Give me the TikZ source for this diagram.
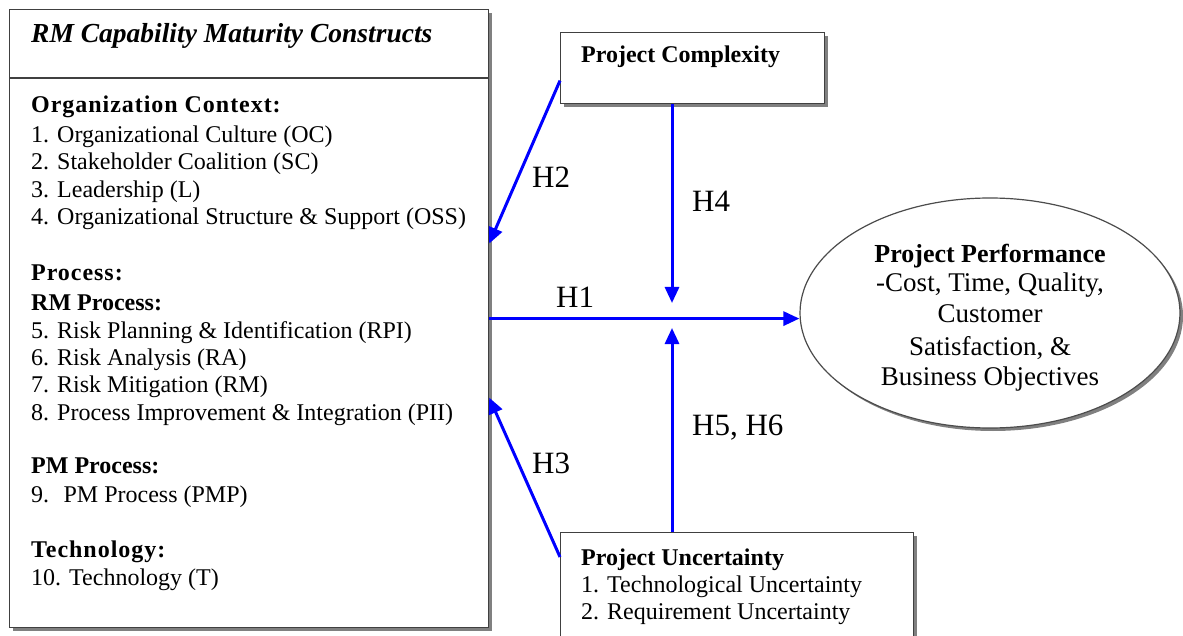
\documentclass[tikz,border=0pt]{standalone}
\usepackage{fontspec}
\setmainfont{Liberation Serif}
\usetikzlibrary{arrows.meta,shadows,shapes.geometric}
\definecolor{arrblue}{RGB}{0,0,255}
\begin{document}
\begin{tikzpicture}[x=1pt,y=-1pt,
  shad/.style={drop shadow={shadow xshift=3pt,shadow yshift=-3pt,fill=black!50,opacity=1}},
  box/.style={draw=black!75,line width=1.2pt,fill=white,inner sep=0pt,anchor=north west,shad},
  txt/.style={anchor=base west,inner sep=0pt,font=\fontsize{24}{28}\selectfont},
  hd/.style={anchor=base west,inner sep=0pt,font=\fontsize{24}{28}\selectfont\bfseries},
  ptxt/.style={anchor=base,inner sep=0pt,font=\fontsize{27}{31}\selectfont},
  hlab/.style={anchor=base west,inner sep=0pt,font=\fontsize{31}{36}\selectfont},
  arr/.style={draw=arrblue,line width=3pt,-{Triangle[length=16pt,width=14pt]}}]
\useasboundingbox (0,0) rectangle (1183,636);
\clip (0,0) rectangle (1183,636);

% boxes
\node[box,minimum width=479pt,minimum height=618pt] (rm) at (9,9) {};
\draw[draw=black!75,line width=1.2pt] (rm.west |- 0,78) -- (rm.east |- 0,78);
\node[box,minimum width=264pt,minimum height=71pt] (pc) at (560,32) {};
\node[box,minimum width=353pt,minimum height=112pt] (pu) at (560,532) {};
\node[draw=black!70,line width=1.2pt,fill=white,ellipse,inner sep=0pt,
      minimum width=380pt,minimum height=230pt,shad] (pp) at (990,313) {};

% left box text
\node[txt,font=\fontsize{27.5}{32}\selectfont\bfseries\itshape] (t0) at (31,43) {RM Capability Maturity Constructs};
\node[hd] (t1) at (31,113) {\addfontfeature{LetterSpace=4}Organization Context:};
\node[txt] (t2) at (31,143) {1. Organizational Culture (OC)};
\node[txt] (t3) at (31,170) {2. Stakeholder Coalition (SC)};
\node[txt] (t4) at (31,198) {3. Leadership (L)};
\node[txt] (t5) at (31,225) {4. Organizational Structure \& Support (OSS)};
\node[hd] (t6) at (31,281) {\addfontfeature{LetterSpace=4}Process:};
\node[hd] (t7) at (31,310) {RM Process:};
\node[txt] (t8) at (31,338) {5. Risk Planning \& Identification (RPI)};
\node[txt] (t9) at (31,365) {6. Risk Analysis (RA)};
\node[txt] (t10) at (31,392) {7. Risk Mitigation (RM)};
\node[txt] (t11) at (31,420) {8. Process Improvement \& Integration (PII)};
\node[hd] (t12) at (31,473) {PM Process:};
\node[txt] (t13) at (31,502) {9.\hspace{0.6em}PM Process (PMP)};
\node[hd] (t14) at (31,557) {\addfontfeature{LetterSpace=4}Technology:};
\node[txt] (t15) at (31,585) {10. Technology (T)};

% other boxes text
\node[hd] (c1) at (581,63) {Project Complexity};
\node[hd] (u1) at (581,565) {Project Uncertainty};
\node[txt] (u2) at (581,592) {1. Technological Uncertainty};
\node[txt] (u3) at (581,619) {2. Requirement Uncertainty};

% ellipse text
\node[ptxt,font=\fontsize{26}{31}\selectfont\bfseries] (p1) at (990,263) {Project Performance};
\node[ptxt] (p2) at (990,292) {-Cost, Time, Quality,};
\node[ptxt] (p3) at (990,323) {Customer};
\node[ptxt] (p4) at (990,355) {Satisfaction, \&};
\node[ptxt] (p5) at (990,385) {Business Objectives};

% connectors
\coordinate (j) at (672,318);
\draw[arr] (rm.east) -- (pp.west |- rm.east);
\draw[arr] ([yshift=-12.5pt]pc.west) -- ([yshift=75pt]rm.east);
\draw[arr] ([yshift=-25pt]pu.north west) -- ([yshift=-79pt]rm.east);
\draw[arr] (pc.south -| j) -- ([yshift=15pt]j);
\draw[arr] (pu.north -| j) -- ([yshift=-10pt]j);

% labels
\node[hlab] (h1) at (556,307) {H1};
\node[hlab] (h2) at (532,188) {H2};
\node[hlab] (h3) at (532,473) {H3};
\node[hlab] (h4) at (692,212) {H4};
\node[hlab] (h56) at (692,435) {H5, H6};
\end{tikzpicture}
\end{document}
